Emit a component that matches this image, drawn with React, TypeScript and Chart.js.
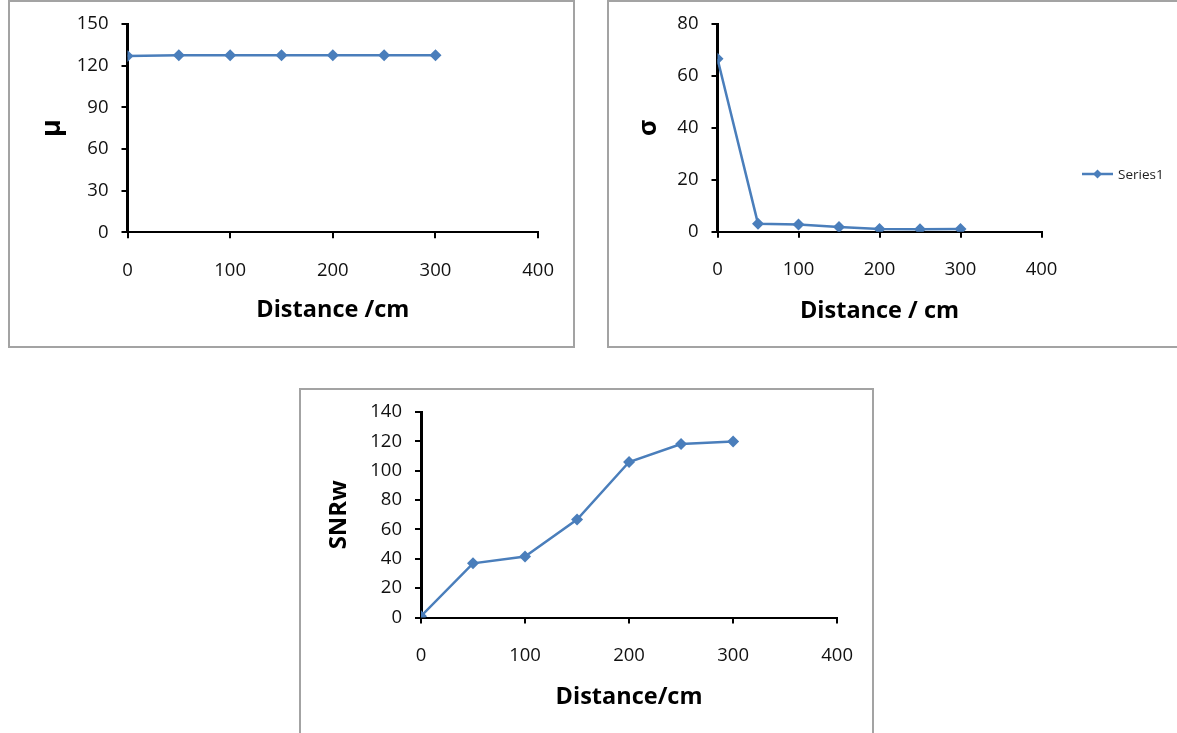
import React, { useEffect, useRef } from "react";
import { Chart, registerables } from "chart.js";

Chart.register(...registerables);

// ---- data ----
const distances = [0, 50, 100, 150, 200, 250, 300];
const muValues = [127.0, 127.5, 127.5, 127.5, 127.5, 127.5, 127.5];
const sigmaValues = [66.6, 3.1, 2.8, 1.8, 1.0, 0.9, 1.0];
const snrwValues = [0.9, 36.9, 41.6, 66.8, 106.0, 118.2, 120.0];
const xTicks = [0, 100, 200, 300, 400];
const muTicks = [0, 30, 60, 90, 120, 150];
const sigmaTicks = [0, 20, 40, 60, 80];
const snrwTicks = [0, 20, 40, 60, 80, 100, 120, 140];
const seriesName = "Series1";

const BLUE = "#4A7EBB";
const FONT = "'Open Sans', 'Liberation Sans', sans-serif";

type Spec = {
  values: number[];
  yTicks: number[];
  yTitle: string;
  yTitleSize: number;
  xTitle: string;
  w: number;
  h: number;
  area: { left: number; top: number; right: number; bottom: number };
  yTitleX: number;
  xTitleY: number;
  legend?: { x: number; y: number };
};

const legendPlugin = {
  id: "seriesLegend",
  afterDraw(chart: any, _args: any, opts: any) {
    if (!opts || opts.x == null) return;
    const ctx = chart.ctx;
    const ds = chart.data.datasets[0];
    const { x, y } = opts;
    ctx.save();
    ctx.strokeStyle = BLUE;
    ctx.lineWidth = 2.5;
    ctx.beginPath();
    ctx.moveTo(x, y);
    ctx.lineTo(x + 31, y);
    ctx.stroke();
    ctx.fillStyle = BLUE;
    const cx = x + 15.5;
    const r = 4.5;
    ctx.beginPath();
    ctx.moveTo(cx, y - r);
    ctx.lineTo(cx + r, y);
    ctx.lineTo(cx, y + r);
    ctx.lineTo(cx - r, y);
    ctx.closePath();
    ctx.fill();
    ctx.fillStyle = "#222";
    ctx.font = `13.5px ${FONT}`;
    ctx.textBaseline = "middle";
    ctx.textAlign = "left";
    ctx.fillText(ds.label, x + 36, y + 1);
    ctx.restore();
  },
};

function makeConfig(s: Spec): any {
  const xTitleFont = { family: FONT, size: 23.5, weight: "bold" as const, lineHeight: 1.2 };
  const yTitleFont = { family: FONT, size: s.yTitleSize, weight: "bold" as const, lineHeight: 1.2 };
  const xHalf = (23.5 * 1.2) / 2;
  const yHalf = (s.yTitleSize * 1.2) / 2;
  return {
    type: "line",
    data: {
      datasets: [
        {
          label: seriesName,
          data: distances.map((d, i) => ({ x: d, y: s.values[i] })),
          borderColor: BLUE,
          backgroundColor: BLUE,
          borderWidth: 2.5,
          pointStyle: "rectRot",
          pointRadius: 6,
          pointBorderWidth: 0,
          pointBackgroundColor: BLUE,
          tension: 0,
          fill: false,
        },
      ],
    },
    options: {
      responsive: false,
      animation: false,
      events: [],
      layout: {
        padding: {
          left: 0,
          top: s.area.top,
          right: s.w - s.area.right,
          bottom: 0,
        },
      },
      plugins: {
        legend: { display: false },
        tooltip: { enabled: false },
        seriesLegend: s.legend ? s.legend : {},
      },
      scales: {
        x: {
          type: "linear",
          min: xTicks[0],
          max: xTicks[xTicks.length - 1],
          afterBuildTicks: (sc: any) => {
            sc.ticks = xTicks.map((v) => ({ value: v }));
          },
          afterFit: (sc: any) => {
            sc.height = s.h - s.area.bottom;
          },
          grid: {
            display: true,
            drawOnChartArea: false,
            drawTicks: true,
            tickLength: 6,
            color: "#000",
            lineWidth: 2,
          },
          border: { display: true, color: "#000", width: 2 },
          ticks: {
            color: "#111",
            font: { family: FONT, size: 18.5 },
            padding: 21,
            maxRotation: 0,
          },
          title: {
            display: true,
            text: s.xTitle,
            color: "#000",
            font: xTitleFont,
            padding: { top: 0, bottom: s.h - s.xTitleY - xHalf },
          },
        },
        y: {
          type: "linear",
          min: s.yTicks[0],
          max: s.yTicks[s.yTicks.length - 1],
          afterBuildTicks: (sc: any) => {
            sc.ticks = s.yTicks.map((v) => ({ value: v }));
          },
          afterFit: (sc: any) => {
            sc.width = s.area.left;
          },
          grid: {
            display: true,
            drawOnChartArea: false,
            drawTicks: true,
            tickLength: 6,
            color: "#000",
            lineWidth: 2,
          },
          border: { display: true, color: "#000", width: 3 },
          ticks: {
            color: "#111",
            font: { family: FONT, size: 18.5 },
            padding: 13,
          },
          title: {
            display: true,
            text: s.yTitle,
            color: "#000",
            font: yTitleFont,
            padding: { top: s.yTitleX - yHalf, bottom: 0 },
          },
        },
      },
    },
    plugins: [legendPlugin],
  };
}

function ChartBox(props: { spec: Spec; left: number; top: number; boxW: number; boxH: number }) {
  const ref = useRef<HTMLCanvasElement | null>(null);
  const { spec, left, top, boxW, boxH } = props;
  useEffect(() => {
    if (!ref.current) return;
    const chart = new Chart(ref.current, makeConfig(spec));
    return () => chart.destroy();
  }, []);
  return (
    <>
      <div
        style={{
          position: "absolute",
          left,
          top,
          width: boxW,
          height: boxH,
          boxSizing: "border-box",
          border: "2px solid #a3a3a3",
          background: "#fff",
        }}
      />
      <canvas
        ref={ref}
        width={spec.w}
        height={spec.h}
        style={{ position: "absolute", left, top, width: spec.w, height: spec.h }}
      />
    </>
  );
}

const muSpec: Spec = {
  values: muValues,
  yTicks: muTicks,
  yTitle: "μ",
  yTitleSize: 27,
  xTitle: "Distance /cm",
  w: 567,
  h: 348,
  area: { left: 119.5, top: 23.3, right: 532.5, bottom: 232.3 },
  yTitleX: 44,
  xTitleY: 310,
};

const sigmaSpec: Spec = {
  values: sigmaValues,
  yTicks: sigmaTicks,
  yTitle: "σ",
  yTitleSize: 25,
  xTitle: "Distance / cm",
  w: 569,
  h: 348,
  area: { left: 110.5, top: 23.3, right: 434.5, bottom: 231.7 },
  yTitleX: 42,
  xTitleY: 311,
  legend: { x: 475, y: 174 },
};

const snrwSpec: Spec = {
  values: snrwValues,
  yTicks: snrwTicks,
  yTitle: "SNRw",
  yTitleSize: 24,
  xTitle: "Distance/cm",
  w: 575,
  h: 345,
  area: { left: 122, top: 22, right: 539, bottom: 229.5 },
  yTitleX: 40,
  xTitleY: 309,
};

export default function App() {
  return (
    <div
      style={{
        position: "absolute",
        left: 0,
        top: 0,
        width: 1177,
        height: 733,
        overflow: "hidden",
        background: "#fff",
      }}
    >
      <ChartBox spec={muSpec} left={8} top={0} boxW={567} boxH={348} />
      <ChartBox spec={sigmaSpec} left={607} top={0} boxW={580} boxH={348} />
      <ChartBox spec={snrwSpec} left={299} top={388} boxW={575} boxH={360} />
    </div>
  );
}
